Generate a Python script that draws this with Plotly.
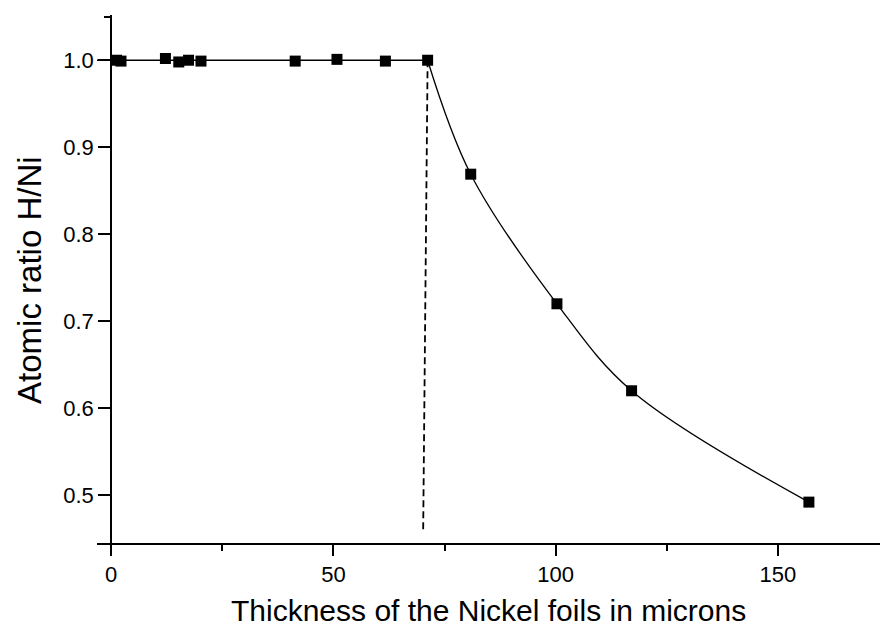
import plotly.graph_objects as go

# Data
thick_flat = [1.2, 2.2, 12.2, 15.2, 17.4, 20.2, 41.4, 50.8, 61.7, 71.2]
ratio_flat = [1.000, 0.999, 1.002, 0.998, 1.000, 0.999, 0.999, 1.001, 0.999, 1.000]
thick_drop = [80.9, 100.3, 117.1, 157.0]
ratio_drop = [0.869, 0.720, 0.620, 0.492]

plateau_x = [-3.2, 71.2]
plateau_y = [1.0, 1.0]
curve_x = [71.2] + thick_drop
curve_y = [1.0] + ratio_drop
cut_x = [71.2, 70.2]
cut_y = [1.0, 0.46]

x_ticks = [0, 50, 100, 150]
y_ticks = [0.5, 0.6, 0.7, 0.8, 0.9, 1.0]
y_tick_text = ["0.5", "0.6", "0.7", "0.8", "0.9", "1.0"]

x_range = [-3.2, 173.0]
y_range = [0.445, 1.052]

FONT = "Liberation Sans, Arial, sans-serif"

fig = go.Figure()
fig.add_trace(go.Scatter(x=plateau_x, y=plateau_y, mode="lines",
                         line=dict(color="black", width=1.5), showlegend=False, hoverinfo="skip"))
fig.add_trace(go.Scatter(x=curve_x, y=curve_y, mode="lines",
                         line=dict(color="black", width=1.3, shape="spline", smoothing=1.0),
                         showlegend=False, hoverinfo="skip"))
fig.add_trace(go.Scatter(x=cut_x, y=cut_y, mode="lines",
                         line=dict(color="black", width=1.8, dash="7px,4px"),
                         showlegend=False, hoverinfo="skip"))
fig.add_trace(go.Scatter(x=thick_flat + thick_drop, y=ratio_flat + ratio_drop, mode="markers",
                         marker=dict(symbol="square", size=11, color="black"),
                         showlegend=False))

ypos = (0 - x_range[0]) / (x_range[1] - x_range[0])

fig.update_layout(
    width=880, height=628,
    margin=dict(l=97, r=0, t=15, b=85),
    paper_bgcolor="white", plot_bgcolor="white",
    font=dict(family=FONT, color="black", size=22),
    xaxis=dict(range=x_range, domain=[0, 1], showgrid=False, zeroline=False,
               showline=True, linecolor="black", linewidth=2,
               ticks="outside", ticklen=11, tickwidth=1.5, tickcolor="black",
               tickvals=x_ticks, ticktext=[str(v) for v in x_ticks],
               tickfont=dict(size=22, family=FONT),
               minor=dict(dtick=25, tick0=0, ticks="outside", ticklen=6,
                          tickwidth=1.5, tickcolor="black")),
    yaxis=dict(range=y_range, anchor="free", position=ypos, showgrid=False, zeroline=False,
               showline=True, linecolor="black", linewidth=2,
               ticks="outside", ticklen=12, tickwidth=1.5, tickcolor="black",
               tickvals=y_ticks, ticktext=y_tick_text,
               tickfont=dict(size=22, family=FONT),
               minor=dict(tickvals=[1.05], ticks="outside", ticklen=6,
                          tickwidth=1.5, tickcolor="black")),
    annotations=[
        dict(text="Thickness of the Nickel foils in microns", xref="paper", yref="paper",
             x=0.5, y=-0.127, xanchor="center", yanchor="middle", showarrow=False,
             font=dict(size=30, family=FONT)),
        dict(text="Atomic ratio H/Ni", xref="paper", yref="paper",
             x=-0.087, y=0.498, xanchor="center", yanchor="middle", showarrow=False,
             textangle=-90, font=dict(size=33, family=FONT)),
    ],
)

fig.write_html("out.html")
